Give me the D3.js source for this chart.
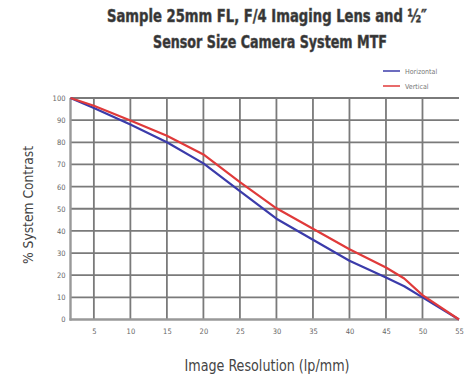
<!DOCTYPE html>
<html><head><meta charset="utf-8">
<script src="https://cdn.jsdelivr.net/npm/d3@7"></script>
<style>body{margin:0;background:#fff}svg{display:block}</style>
</head><body>
<svg id="c" width="468" height="374"></svg>
<script>
const resolution = [1.8, 5, 10, 15, 20, 25, 30, 35, 40, 45, 47.5, 50, 55];
const horizontal = [100, 95.5, 88, 80, 70.5, 58, 45.5, 36, 26.5, 19, 15, 10, 0];
const vertical   = [100, 96.5, 89.8, 83, 74.5, 62, 50.2, 41, 31.7, 23.5, 18.5, 11, 0];
const xTicks = [5, 10, 15, 20, 25, 30, 35, 40, 45, 50, 55];
const yTicks = [0, 10, 20, 30, 40, 50, 60, 70, 80, 90, 100];
const seriesNames = ["Horizontal", "Vertical"];
const seriesColors = ["#3b3baa", "#e03a3a"];

const font = "'Liberation Sans Narrow','DejaVu Sans Condensed','Liberation Sans',sans-serif";
const svg = d3.select("#c");
const x = d3.scaleLinear().domain([1.8, 55]).range([70.5, 459]);
const y = d3.scaleLinear().domain([0, 100]).range([319.5, 98]);

// gridlines
const grid = svg.append("g").attr("class", "grid");
xTicks.filter(d => d < 55).forEach(d => {
  grid.append("line").attr("x1", x(d)).attr("x2", x(d)).attr("y1", y(0)).attr("y2", y(100))
    .style("stroke", "#7a7a7a").style("stroke-width", "1.8px");
});
yTicks.filter(d => d > 0).forEach(d => {
  grid.append("line").attr("x1", x(1.8)).attr("x2", x(55)).attr("y1", y(d)).attr("y2", y(d))
    .style("stroke", "#7a7a7a").style("stroke-width", "1.8px");
});

// axes
const xAxis = svg.append("g").attr("transform", `translate(0,${y(0)})`)
  .call(d3.axisBottom(x).tickValues(xTicks).tickSize(0).tickPadding(9));
const yAxis = svg.append("g").attr("transform", `translate(${x(1.8)},0)`)
  .call(d3.axisLeft(y).tickValues(yTicks).tickSize(0).tickPadding(5));
[xAxis, yAxis].forEach(a => {
  a.select(".domain").attr("stroke", "#999").attr("stroke-width", 2.4);
  a.selectAll("text").attr("font-family", font).attr("font-size", 7.5).attr("fill", "#666");
});
yAxis.select(".domain").attr("d", `M0,${y(0) + 1}V${y(100)}`);
xAxis.select(".domain").attr("d", `M${x(1.8) - 1},0H${x(55)}`);

// lines
const line = d3.line().x((d, i) => x(resolution[i])).y(d => y(d));
[horizontal, vertical].forEach((s, k) => {
  svg.append("path").datum(s).attr("d", line).attr("fill", "none")
    .attr("stroke", seriesColors[k]).attr("stroke-width", 2.2).attr("stroke-linejoin", "round");
});

// legend
seriesNames.forEach((n, k) => {
  const ly = 71 + k * 15;
  svg.append("line").attr("x1", 383).attr("x2", 400).attr("y1", ly).attr("y2", ly)
    .attr("stroke", seriesColors[k]).attr("stroke-width", 2).attr("stroke-opacity", 0.75);
  svg.append("text").attr("x", 405).attr("y", ly + 2.5).text(n)
    .attr("font-family", font).attr("font-size", 7).attr("fill", "#777");
});

// titles
const title = svg.append("g").attr("font-family", font).attr("font-weight", "bold")
  .attr("fill", "#333").attr("stroke", "#555").attr("stroke-width", 0.5)
  .attr("font-size", 17).attr("text-anchor", "middle");
title.append("text").attr("x", 267).attr("y", 22).text("Sample 25mm FL, F/4 Imaging Lens and ½\u2033")
  .attr("textLength", 320).attr("lengthAdjust", "spacingAndGlyphs");
title.append("text").attr("x", 270).attr("y", 48).text("Sensor Size Camera System MTF")
  .attr("textLength", 234).attr("lengthAdjust", "spacingAndGlyphs");

svg.append("text").attr("x", 267).attr("y", 371).attr("text-anchor", "middle")
  .attr("font-family", font).attr("font-size", 15).attr("fill", "#444")
  .attr("textLength", 165).attr("lengthAdjust", "spacingAndGlyphs")
  .text("Image Resolution (lp/mm)");
svg.append("text").attr("transform", "translate(33,205) rotate(-90)").attr("text-anchor", "middle")
  .attr("font-family", font).attr("font-size", 14).attr("fill", "#444")
  .attr("textLength", 118).attr("lengthAdjust", "spacingAndGlyphs")
  .text("% System Contrast");
</script>
</body></html>
